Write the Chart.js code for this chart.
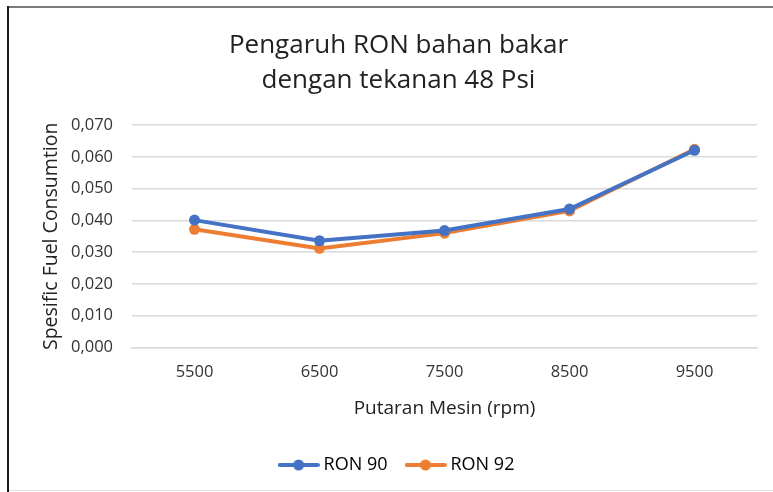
<!DOCTYPE html>
<html><head><meta charset="utf-8">
<script src="https://cdn.jsdelivr.net/npm/chart.js@4/dist/chart.umd.min.js"></script>
<style>html,body{margin:0;padding:0;background:#fff}#wrap{width:773px;height:492px}</style>
</head><body><div id="wrap"><canvas id="c" width="773" height="492"></canvas></div>
<script>
const categories = ['5500','6500','7500','8500','9500'];
const ron90 = [0.0401, 0.0336, 0.0368, 0.0436, 0.0621];
const ron92 = [0.0372, 0.0312, 0.0360, 0.0430, 0.0624];
const seriesNames = ['RON 90','RON 92'];
const titleLines = ['Pengaruh RON bahan bakar','dengan tekanan 48 Psi'];
const xTitle = 'Putaran Mesin (rpm)';
const yTitle = 'Spesific Fuel Consumtion';
const BLUE = '#4472C4', ORANGE = '#ED7D31';
const FONT = "'Open Sans', 'Liberation Sans', sans-serif";

function legendIcon(color){
  const cv = document.createElement('canvas');
  cv.width = 42; cv.height = 14;
  const g = cv.getContext('2d');
  g.strokeStyle = color; g.lineWidth = 4; g.lineCap = 'round';
  g.beginPath(); g.moveTo(2,7); g.lineTo(40,7); g.stroke();
  g.fillStyle = color; g.beginPath(); g.arc(21,7,5.5,0,Math.PI*2); g.fill();
  return cv;
}
const icons = [legendIcon(BLUE), legendIcon(ORANGE)];

const frame = {
  id:'frame',
  beforeDraw(ch){
    const g = ch.ctx; g.save();
    g.fillStyle='#fff'; g.fillRect(0,0,ch.width,ch.height);
    g.restore();
  },
  afterDraw(ch){
    const g = ch.ctx; g.save();
    g.fillStyle='#7a7a7a'; g.fillRect(7,6,766,2);
    g.fillStyle='#1a1a1a'; g.fillRect(7,6,2,486);
    g.fillStyle='#e2e2e2'; g.fillRect(9,490,764,1);
    g.restore();
  }
};

new Chart(document.getElementById('c'), {
  type:'line',
  data:{
    labels: categories,
    datasets:[
      {label:seriesNames[0], data:ron90, borderColor:BLUE, backgroundColor:BLUE, borderWidth:4, pointRadius:5.5, pointHoverRadius:5.5, pointBackgroundColor:BLUE, pointBorderWidth:0, tension:0},
      {label:seriesNames[1], data:ron92, borderColor:ORANGE, backgroundColor:ORANGE, borderWidth:4, pointRadius:5.5, pointHoverRadius:5.5, pointBackgroundColor:ORANGE, pointBorderWidth:0, tension:0}
    ]
  },
  options:{
    responsive:false, animation:false, devicePixelRatio:1,
    layout:{padding:{left:40, right:16, top:0, bottom:8}},
    plugins:{
      title:{display:true, text:titleLines, color:'#222', font:{family:FONT, size:26, weight:'normal', lineHeight:1.35}, padding:{top:28, bottom:27}},
      legend:{position:'bottom', labels:{usePointStyle:true, pointStyleWidth:32, generateLabels(ch){return ch.data.datasets.map((d,i)=>({text:d.label, pointStyle:icons[i], fillStyle:d.borderColor, strokeStyle:d.borderColor, lineWidth:0, datasetIndex:i, hidden:false}));}, color:'#222', font:{family:FONT, size:18}, boxHeight:14, padding:22}},
      tooltip:{enabled:false}
    },
    scales:{
      x:{offset:true, grid:{display:false, drawTicks:false}, border:{display:true, color:'#d9d9d9', width:1.5},
         ticks:{color:'#333', font:{family:FONT, size:16.5}, padding:15},
         title:{display:true, text:xTitle, color:'#222', font:{family:FONT, size:19}, padding:{top:0, bottom:14}}},
      y:{min:0, max:0.07, afterFit(s){s.width = 92;},
         grid:{color:'#d9d9d9', lineWidth:1.5, drawTicks:false}, border:{display:false},
         ticks:{stepSize:0.01, color:'#333', font:{family:FONT, size:16.5}, padding:19,
           callback:v=>v.toFixed(3).replace('.',',')},
         title:{display:true, text:yTitle, color:'#222', font:{family:FONT, size:19.5}, padding:{top:0,bottom:4}}}
    }
  },
  plugins:[frame]
});
</script></body></html>
